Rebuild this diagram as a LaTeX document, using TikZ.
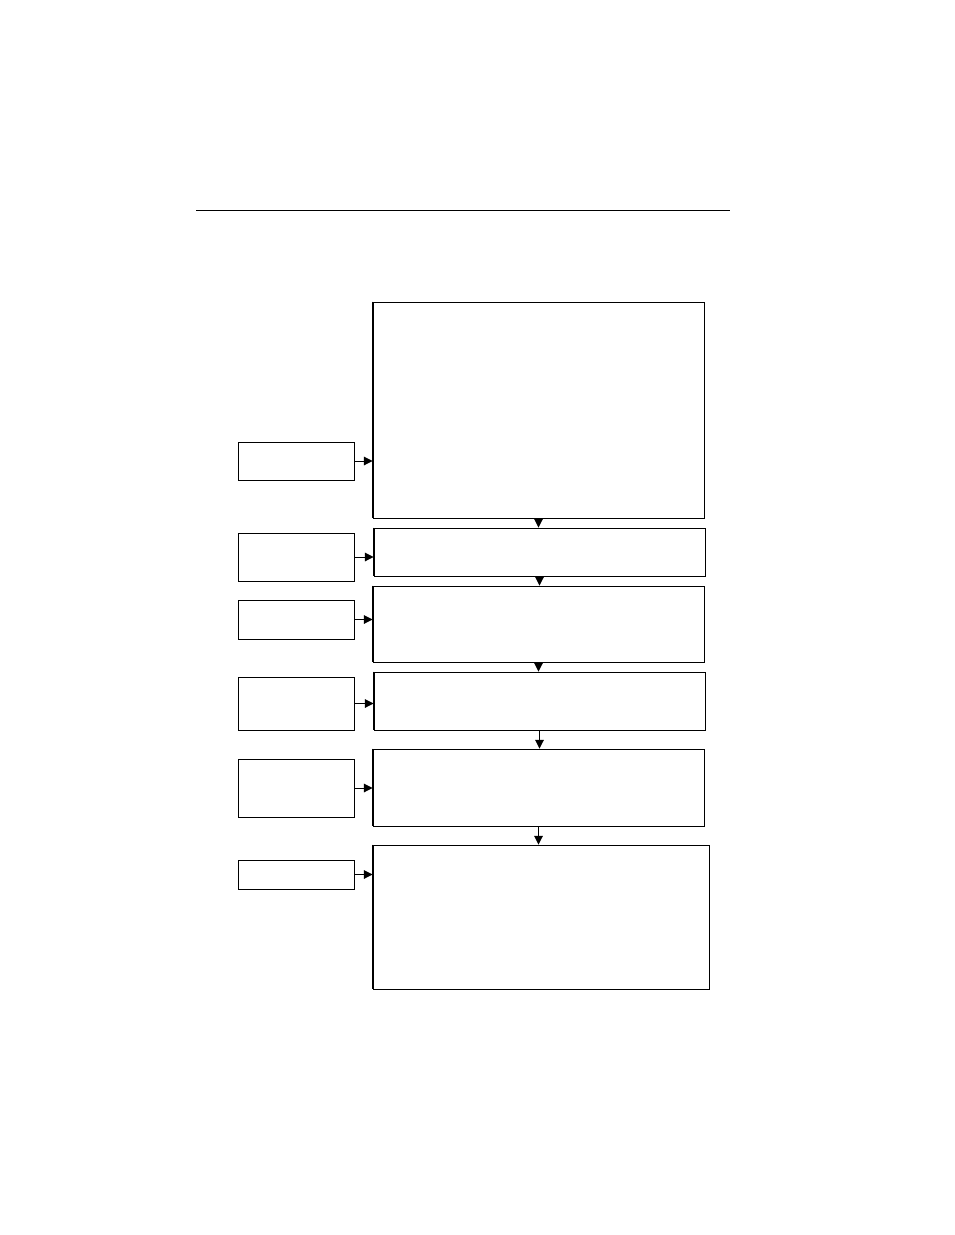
\documentclass[tikz,border=0pt]{standalone}
\usetikzlibrary{arrows.meta}
\begin{document}
\begin{tikzpicture}[x=0.75pt,y=-0.75pt,
  box/.style={draw,line width=0.7pt,rectangle,inner sep=0pt},
  conn/.style={line width=0.7pt,-{Triangle[length=6.5pt,width=6.5pt]}},
  thickleft/.style={line width=1.4pt}]
\useasboundingbox (0,0) rectangle (954,1235);
\draw[line width=0.7pt] (196,210) -- (730,210);
% main boxes
\newcommand{\mainbx}[5]{\node[box,minimum width={(#4-#2)*0.75pt},minimum height={(#5-#3)*0.75pt}] (#1) at ({(#2+#4)/2},{(#3+#5)/2}) {};
  \draw[thickleft] (#1.north west) -- (#1.south west);}
\mainbx{M1}{373}{302}{704}{518}
\mainbx{M2}{374}{528}{705}{576}
\mainbx{M3}{373}{586}{704}{662}
\mainbx{M4}{374}{672}{705}{730}
\mainbx{M5}{373}{749}{704}{826}
\mainbx{M6}{373}{845}{709}{989}
% side boxes
\newcommand{\sidebx}[3]{\node[box,minimum width={116*0.75pt},minimum height={(#3-#2)*0.75pt}] (#1) at (296,{(#2+#3)/2}) {};}
\sidebx{S1}{442}{480}
\sidebx{S2}{533}{581}
\sidebx{S3}{600}{639}
\sidebx{S4}{677}{730}
\sidebx{S5}{759}{817}
\sidebx{S6}{860}{889}
\coordinate (L1) at (S1.east); \draw[conn] (S1.east) -- (M1.west |- L1);
\coordinate (L2) at (S2.east); \draw[conn] (S2.east) -- (M2.west |- L2);
\coordinate (L3) at (S3.east); \draw[conn] (S3.east) -- (M3.west |- L3);
\coordinate (L4) at (S4.east); \draw[conn] (S4.east) -- (M4.west |- L4);
\coordinate (L5) at (S5.east); \draw[conn] (S5.east) -- (M5.west |- L5);
\coordinate (L6) at (S6.east); \draw[conn] (S6.east) -- (M6.west |- L6);
% vertical arrows
\draw[conn] (M1.south) -- (M1.south |- M2.north);
\draw[conn] (M2.south) -- (M2.south |- M3.north);
\draw[conn] (M3.south) -- (M3.south |- M4.north);
\draw[conn] (M4.south) -- (M4.south |- M5.north);
\draw[conn] (M5.south) -- (M5.south |- M6.north);
\end{tikzpicture}
\end{document}
